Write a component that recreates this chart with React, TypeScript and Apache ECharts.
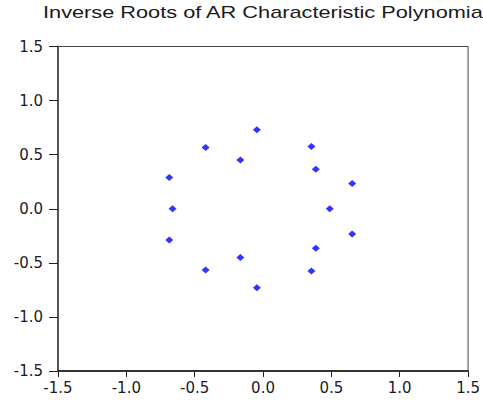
import React, { useEffect, useRef } from "react";
import * as echarts from "echarts";

const titleText = "Inverse Roots of AR Characteristic Polynomia";
const rootsRe = [-0.045, -0.42, 0.354, -0.166, 0.386, -0.686, 0.652, -0.662, 0.488, -0.686, 0.652, 0.386, -0.166, -0.42, 0.354, -0.045];
const rootsIm = [0.73, 0.567, 0.575, 0.45, 0.366, 0.29, 0.234, 0.0, 0.0, -0.29, -0.234, -0.366, -0.45, -0.567, -0.575, -0.73];
const axisMin = -1.5;
const axisMax = 1.5;
const axisStep = 0.5;

export default function App() {
  const ref = useRef<HTMLDivElement>(null);
  useEffect(() => {
    if (!ref.current) return;
    const chart = echarts.init(ref.current, null, { renderer: "svg" });
    const data = rootsRe.map((x, i) => [x, rootsIm[i]]);
    const labelStyle = {
      fontFamily: "DejaVu Sans",
      fontSize: 15,
      color: "#1a1a2a",
      formatter: (v: number) => v.toFixed(1),
    };
    chart.setOption({
      animation: false,
      backgroundColor: "#ffffff",
      graphic: [
        {
          type: "text",
          x: 43,
          y: 5,
          scaleX: 1.36,
          style: {
            text: titleText,
            font: "16px 'Liberation Sans'",
            fill: "#1a1a1a",
          },
        },
      ],
      grid: {
        left: 58,
        right: 12,
        top: 46.5,
        bottom: 32,
        show: true,
        borderColor: "#444",
        borderWidth: 1,
        backgroundColor: "#fff",
      },
      xAxis: {
        type: "value",
        min: axisMin,
        max: axisMax,
        interval: axisStep,
        splitLine: { show: false },
        axisLine: { onZero: false, lineStyle: { color: "#111", width: 1.5 } },
        axisTick: { show: true, inside: false, length: 6, lineStyle: { color: "#222" } },
        axisLabel: { ...labelStyle, margin: 9 },
      },
      yAxis: {
        type: "value",
        min: axisMin,
        max: axisMax,
        interval: axisStep,
        splitLine: { show: false },
        axisLine: { onZero: false, lineStyle: { color: "#555", width: 2 } },
        axisTick: { show: true, inside: false, length: 9, lineStyle: { color: "#222" } },
        axisLabel: { ...labelStyle, margin: 15 },
      },
      series: [
        {
          type: "scatter",
          data,
          symbol: "diamond",
          symbolSize: [8, 7],
          itemStyle: { color: "#0000ff" },
        },
      ],
    });
    return () => chart.dispose();
  }, []);
  return <div ref={ref} style={{ width: 483, height: 403, position: "absolute", left: 0, top: 0 }} />;
}
